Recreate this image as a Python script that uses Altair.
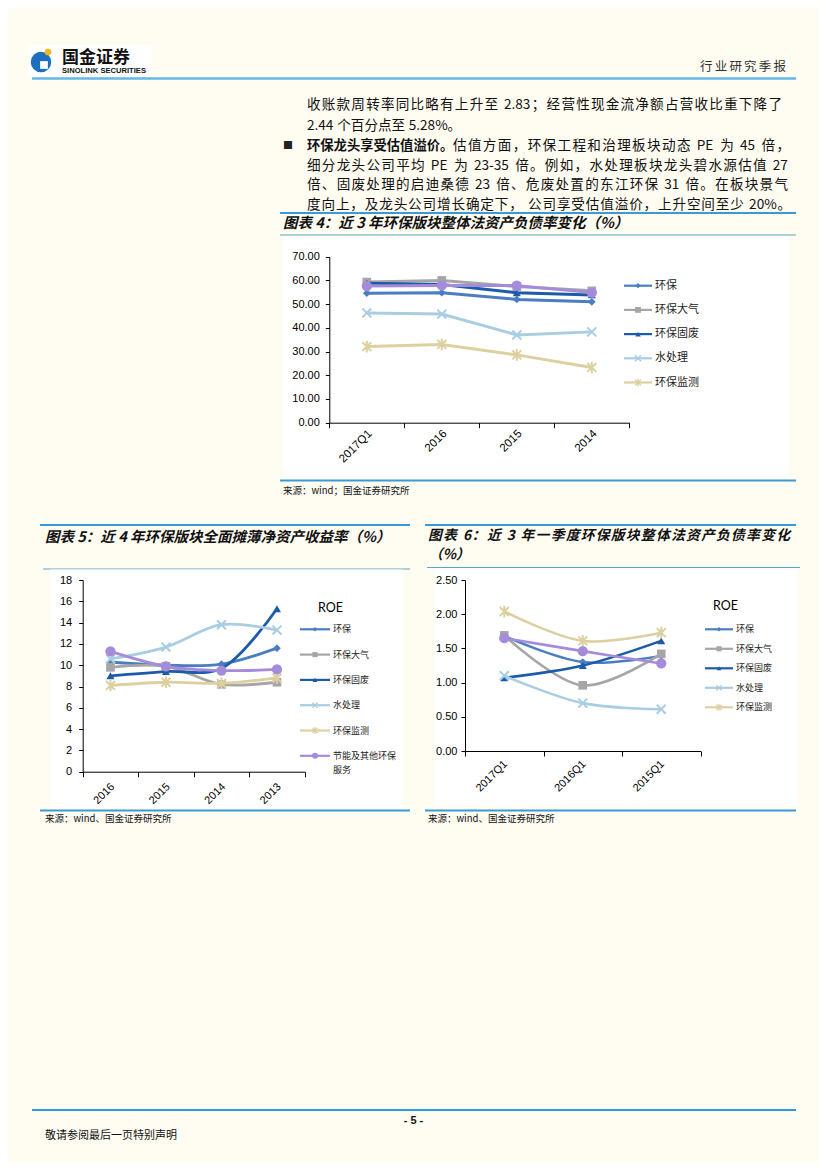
import altair as alt
import pandas as pd

# ---------------- data ----------------
series = ["环保", "环保大气", "环保固废", "水处理", "环保监测", "节能及其他环保服务"]

cats4 = ["2017Q1", "2016", "2015", "2014"]
hb4 = [54.6, 54.8, 52.0, 51.0]
dq4 = [59.3, 60.0, 57.4, 55.6]
gf4 = [58.8, 58.3, 54.8, 53.9]
sc4 = [46.3, 45.8, 37.0, 38.3]
jc4 = [32.1, 33.0, 28.6, 23.3]
jn4 = [57.6, 57.9, 57.8, 54.9]
yticks4 = [0, 10, 20, 30, 40, 50, 60, 70]

cats5 = ["2016", "2015", "2014", "2013"]
hb5 = [10.3, 10.0, 10.1, 11.6]
dq5 = [9.8, 9.9, 8.2, 8.4]
gf5 = [9.0, 9.4, 9.7, 15.3]
sc5 = [10.6, 11.7, 13.8, 13.3]
jc5 = [8.1, 8.4, 8.3, 8.8]
jn5 = [11.3, 9.9, 9.5, 9.6]
yticks5 = [0, 2, 4, 6, 8, 10, 12, 14, 16, 18]

cats6 = ["2017Q1", "2016Q1", "2015Q1"]
hb6 = [1.68, 1.30, 1.39]
dq6 = [1.69, 0.96, 1.42]
gf6 = [1.07, 1.25, 1.61]
sc6 = [1.10, 0.70, 0.61]
jc6 = [2.04, 1.61, 1.73]
jn6 = [1.65, 1.46, 1.28]
yticks6 = [0, 0.5, 1.0, 1.5, 2.0, 2.5]

legend4 = ["环保", "环保大气", "环保固废", "水处理", "环保监测"]
legend5 = ["环保", "环保大气", "环保固废", "水处理", "环保监测", "节能及其他环保服务"]
legend6 = ["环保", "环保大气", "环保固废", "水处理", "环保监测"]

title4 = "图表 4：近 3 年环保版块整体法资产负债率变化（%）"
title5 = "图表 5：近 4 年环保版块全面摊薄净资产收益率（%）"
title6a = "图表 6：近 3 年一季度环保版块整体法资产负债率变化"
title6b = "（%）"
source4 = "来源：wind；国金证券研究所"
source56 = "来源：wind、国金证券研究所"
header_right = "行业研究季报"
footer_note = "敬请参阅最后一页特别声明"

para_lines = [
    "收账款周转率同比略有上升至 2.83；经营性现金流净额占营收比重下降了",
    "2.44 个百分点至 5.28%。",
    "估值方面，环保工程和治理板块动态 PE 为 45 倍，",
    "细分龙头公司平均 PE 为 23-35 倍。例如，水处理板块龙头碧水源估值 27",
    "倍、固废处理的启迪桑德 23 倍、危废处置的东江环保 31 倍。在板块景气",
    "度向上，及龙头公司增长确定下， 公司享受估值溢价，上升空间至少 20%。",
]
bold_lead = "环保龙头享受估值溢价。"

# ---------------- styles / layout ----------------
BG = "#FFFCF2"
CJK = "Noto Sans CJK SC"
LAT = "Liberation Sans"
BLUE = "#3A9AD9"
TEAL = "#5AA6BA"
XPATH = "M-1,-1L1,1M-1,1L1,-1"
STARPATH = "M-1,-1L1,1M-1,1L1,-1M0,-1.3L0,1.3"
STY = {
    "环保": dict(color="#4A7EC0", shape="diamond", filled=True, size=60),
    "环保大气": dict(color="#A6A6A6", shape="square", filled=True, size=75),
    "环保固废": dict(color="#1C5BAA", shape="triangle-up", filled=True, size=65),
    "水处理": dict(color="#A9CDE2", shape=XPATH, filled=False, size=80),
    "环保监测": dict(color="#DDD0A0", shape=STARPATH, filled=False, size=80),
    "节能及其他环保服务": dict(color="#A58CDB", shape="circle", filled=True, size=105),
}
PW, PH = 811, 1154
O = 8  # page margin

one = alt.Data(values=[{"k": 1}])


def T(s, px, py, size=13.5, weight="normal", style="normal", font=CJK, color="#111111",
      align="left"):
    return alt.Chart(one).mark_text(text=s, font=font, fontSize=size, fontWeight=weight,
                                    fontStyle=style, color=color, align=align,
                                    baseline="middle").encode(
        x=alt.value(px - O), y=alt.value(py - O))


def H(px1, px2, py, color, w):
    return alt.Chart(one).mark_rule(color=color, strokeWidth=w).encode(
        x=alt.value(px1 - O), x2=alt.value(px2 - O), y=alt.value(py - O))


def R(px1, py1, px2, py2, fill):
    return alt.Chart(one).mark_rect(color=fill, opacity=1).encode(
        x=alt.value(px1 - O), x2=alt.value(px2 - O),
        y=alt.value(py1 - O), y2=alt.value(py2 - O))


def P(px, py, shape, size, color):
    return alt.Chart(one).mark_point(shape=shape, size=size, filled=True, color=color,
                                     opacity=1).encode(
        x=alt.value(px - O), y=alt.value(py - O))


# ---- simple justification of a text line into tokens ----
def _is_cjk(ch):
    return ord(ch) > 0x2E80


def _tokens(s):
    out, buf = [], ""
    for ch in s:
        if _is_cjk(ch) or ch == " ":
            if buf:
                out.append(buf)
                buf = ""
            out.append(ch)
        else:
            buf += ch
    if buf:
        out.append(buf)
    return out


def _w(t, fs):
    w = 0.0
    for ch in t:
        if _is_cjk(ch):
            w += 1.0
        elif ch.isdigit():
            w += 0.56
        elif ch == ".":
            w += 0.28
        elif ch == "%":
            w += 0.9
        elif ch == " ":
            w += 0.26
        elif ch == "-":
            w += 0.34
        else:
            w += 0.64
    return w * fs


def justify(s, x0, x1, y, fs):
    toks = _tokens(s)
    ws = [_w(t, fs) for t in toks]
    extra = 0.0
    if x1 is not None and len(toks) > 1:
        extra = (x1 - x0 - sum(ws)) / (len(toks) - 1)
    rows, x = [], x0
    for t, w in zip(toks, ws):
        if t.strip():
            rows.append({"t": t, "x": x - O, "y": y - O})
        x += w + extra
    return rows


def text_block(rows, fs, weight="normal", style="normal", color="#111111"):
    return alt.Chart(pd.DataFrame(rows)).mark_text(
        font=CJK, fontSize=fs, fontWeight=weight, fontStyle=style, color=color,
        align="left", baseline="middle").encode(
        x=alt.X("x:Q", scale=None), y=alt.Y("y:Q", scale=None), text="t:N")


# ---------------- page decorations ----------------
deco = [R(8, 8, 819, 1162, BG)]
deco += [
    R(28, 45, 152, 77, "#FFFFFF"),
    P(41, 62, "circle", 420, "#1D6FBF"),
    P(44, 65, "square", 60, "#FFFFFF"),
    P(48, 52, "circle", 45, "#F3B61F"),
    T("国金证券", 62, 57.5, 17, "bold"),
    T("SINOLINK SECURITIES", 62, 71, 7.6, "bold", font=LAT),
    text_block(justify(header_right, 700, 786, 67, 12.5), 12.5, color="#333333"),
    H(32, 796, 78.5, "#65B7E6", 2.5),
]
line_y = [104.5, 126, 146, 165.5, 185, 204.5]
line_x = [(307, 782), (307, None), (453, 790), (307, 788), (307, 788), (307, 791)]
prow = []
for k, s in enumerate(para_lines):
    prow += justify(s, line_x[k][0], line_x[k][1], line_y[k], 13.6)
deco.append(text_block(prow, 13.6))
deco.append(T("■", 283, line_y[2], 10, color="#222222"))
deco.append(text_block(justify(bold_lead, 307, None, line_y[2], 13.3), 13.3, weight="bold"))

deco += [
    H(280, 796, 213, BLUE, 2),
    T(title4, 283, 224, 14.5, "bold", "italic"),
    H(280, 796, 235, TEAL, 1),
    R(283, 237, 789, 478, "#FFFFFF"),
    H(280, 796, 480.5, BLUE, 2),
    T(source4, 283, 490.5, 9.5),
]
deco += [
    H(40, 410, 525, BLUE, 2),
    T(title5, 45, 538, 14.5, "bold", "italic"),
    H(43, 410, 569, TEAL, 1),
    R(50, 569.5, 403, 808, "#FFFFFF"),
    H(40, 410, 810.5, BLUE, 2),
    T(source56, 45, 818.5, 9.5),
]
deco += [
    H(425, 796, 525, BLUE, 2),
    text_block(justify(title6a, 428, 790, 536, 13.8), 13.8, weight="bold", style="italic"),
    T(title6b, 429, 555, 13.8, "bold", "italic"),
    H(427, 800, 567.5, TEAL, 1),
    R(434, 568, 797, 806, "#FFFFFF"),
    H(425, 796, 810.5, BLUE, 2),
    T(source56, 428, 818.5, 9.5),
]
deco += [
    H(32, 796, 1110, "#2E9AD6", 2),
    T("- 5 -", 413.5, 1121, 11, "bold", font=LAT, align="center"),
    T(footer_note, 45, 1136, 11),
]


# ---------------- charts ----------------
def make_chart(cats, rows, yticks, ymax, yfmt, left, right, top, bottom, interp, lw,
               lab_off, lab_pad, ylab_pad, xfs, legend_names, lx, ly0, lstep, llen, lfs, lms,
               roe=None):
    l, r, t, b = left - O, right - O, top - O, bottom - O
    xenc = alt.X("cat:N", sort=cats, title=None, bandPosition=0.5,
                 scale=alt.Scale(type="band", domain=cats, range=[l, r],
                                 paddingInner=0, paddingOuter=0),
                 axis=alt.Axis(orient="bottom", offset=b - PH, tickBand="extent",
                               labelAngle=-45, labelAlign="right", labelBaseline="middle",
                               labelOffset=lab_off, labelPadding=lab_pad, tickSize=5,
                               tickColor="#000000", domainColor="#000000",
                               labelColor="#000000", labelFont=LAT, labelFontSize=xfs,
                               grid=False, labelOverlap=False, zindex=2))
    yenc = alt.Y("v:Q", title=None,
                 scale=alt.Scale(domain=[0, ymax], range=[b, t], nice=False, zero=True),
                 axis=alt.Axis(orient="left", offset=-l, values=yticks, format=yfmt,
                               tickSize=4, labelPadding=ylab_pad, tickColor="#000000",
                               domainColor="#000000", labelColor="#000000", labelFont=LAT,
                               labelFontSize=11, grid=False, zindex=2))
    layers = []
    for name, vals in rows:
        st = STY[name]
        df = pd.DataFrame({"cat": cats, "i": list(range(len(cats))), "v": vals})
        base = alt.Chart(df)
        layers.append(base.mark_line(color=st["color"], strokeWidth=lw,
                                     interpolate=interp).encode(
            x=xenc, y=yenc, order=alt.Order("i:Q")))
        if st["filled"]:
            m = base.mark_point(shape=st["shape"], filled=True, size=st["size"],
                                color=st["color"], opacity=1)
        else:
            m = base.mark_point(shape=st["shape"], filled=False, size=st["size"],
                                color=st["color"], strokeWidth=2, opacity=1)
        layers.append(m.encode(x=xenc, y=yenc))
    # legend (page px)
    if roe is not None:
        layers.append(T("ROE", roe[0], roe[1], 12.5, font="Lato", color="#000000"))
    for k, name in enumerate(legend_names):
        st = STY[name]
        yy = ly0 + k * lstep
        layers.append(H(lx, lx + llen, yy, st["color"], 2.2))
        if st["filled"]:
            mk = alt.Chart(one).mark_point(shape=st["shape"], filled=True,
                                           size=st["size"] * lms, color=st["color"], opacity=1)
        else:
            mk = alt.Chart(one).mark_point(shape=st["shape"], filled=False,
                                           size=st["size"] * lms, color=st["color"],
                                           strokeWidth=1.3, opacity=1)
        layers.append(mk.encode(x=alt.value(lx + llen / 2 - O), y=alt.value(yy - O)))
        label = name
        if name == "节能及其他环保服务":
            layers.append(T("服务", lx + llen + 3, yy + lfs * 1.6, lfs, color="#222222"))
            label = "节能及其他环保"
        layers.append(T(label, lx + llen + 3, yy, lfs, color="#222222"))
    return alt.layer(*layers)


rows4 = list(zip(series, [hb4, dq4, gf4, sc4, jc4, jn4]))
rows5 = list(zip(series, [hb5, dq5, gf5, sc5, jc5, jn5]))
rows6 = list(zip(series, [hb6, dq6, gf6, sc6, jc6, jn6]))

chart4 = make_chart(cats4, rows4, yticks4, 70, ".2f", 329.3, 629.3, 256.7, 422.7,
                    "linear", 3, 3, 4, 6, 11.5, legend4, 624, 285.7, 24.2, 28, 11, 0.45)
chart5 = make_chart(cats5, rows5, yticks5, 18, "d", 82.7, 304.7, 580, 771.7,
                    "catmull-rom", 2.8, 2, 8, 7, 11, legend5, 300, 629.3, 25.3, 30, 9, 0.35,
                    roe=(318, 608))
chart6 = make_chart(cats6, rows6, yticks6, 2.5, ".2f", 465, 700.5, 580, 751,
                    "catmull-rom", 2.6, 1, 6, 4, 11, legend6, 705, 629.3, 19.5, 28, 9, 0.35,
                    roe=(713, 606))

chart = alt.layer(
    alt.layer(*deco), chart4, chart5, chart6
).resolve_scale(x="independent", y="independent").properties(
    width=PW, height=PH, padding=0, background=BG,
    autosize=alt.AutoSizeParams(type="none")
).configure_view(stroke=None)

chart.save("out.html", embed_options={"renderer": "svg", "actions": False})
